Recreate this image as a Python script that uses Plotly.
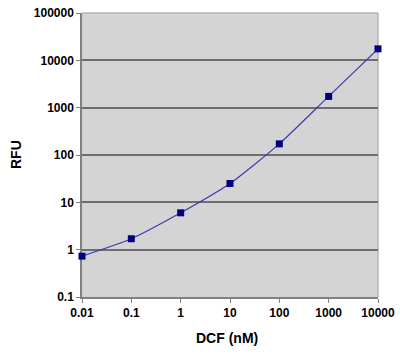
import plotly.graph_objects as go

dcf_nM = [0.01, 0.1, 1, 10, 100, 1000, 10000]
rfu = [0.73, 1.7, 6.0, 25, 172, 1730, 17500]

x_ticks = [0.01, 0.1, 1, 10, 100, 1000, 10000]
x_ticktext = ["0.01", "0.1", "1", "10", "100", "1000", "10000"]
y_ticks = [0.1, 1, 10, 100, 1000, 10000, 100000]
y_ticktext = ["0.1", "1", "10", "100", "1000", "10000", "100000"]

fig = go.Figure()
fig.add_trace(go.Scatter(
    x=dcf_nM, y=rfu, mode="lines+markers",
    line=dict(color="#3b3bb0", width=1.2, shape="spline", smoothing=0.6),
    marker=dict(symbol="square", size=7, color="#000080", line=dict(width=0)),
    showlegend=False, cliponaxis=False,
))

tickfont = dict(family="Liberation Sans, Arial", size=12, color="black", weight="bold")
titlefont = dict(family="Liberation Sans, Arial", size=14, color="black", weight="bold")
fig.update_layout(
    width=400, height=354,
    margin=dict(l=82, r=22, t=13, b=57),
    paper_bgcolor="white",
    plot_bgcolor="#d4d4d4",
    xaxis=dict(
        type="log", range=[-2, 4], tickvals=x_ticks, ticktext=x_ticktext,
        showgrid=False, zeroline=False, showline=True, linecolor="#808080", linewidth=1.5,
        ticks="outside", ticklen=4, tickcolor="#808080", tickfont=tickfont,
        automargin=False, layer="below traces",
    ),
    yaxis=dict(
        type="log", range=[-1, 5], tickvals=y_ticks, ticktext=y_ticktext,
        showgrid=True, gridcolor="#6e6e6e", gridwidth=1.5, zeroline=False,
        showline=True, linecolor="#808080", linewidth=1.5,
        ticks="outside", ticklen=4, tickcolor="#808080", tickfont=tickfont,
        automargin=False, layer="below traces",
    ),
    annotations=[
        dict(text="DCF (nM)", xref="paper", yref="paper", x=0.49, y=0, yshift=-41,
             showarrow=False, font=titlefont, xanchor="center", yanchor="middle"),
        dict(text="RFU", xref="paper", yref="paper", x=0, xshift=-66, y=0.5,
             showarrow=False, font=titlefont, textangle=-90, xanchor="center", yanchor="middle"),
    ],
    shapes=[
        dict(type="line", xref="paper", yref="paper", x0=0, x1=1, y0=1, y1=1, layer="between",
             line=dict(color="#b4b4b4", width=1.5)),
        dict(type="line", xref="paper", yref="paper", x0=1, x1=1, y0=0, y1=1, layer="between",
             line=dict(color="#b4b4b4", width=1.5)),
    ],
)

fig.write_html("out.html")
